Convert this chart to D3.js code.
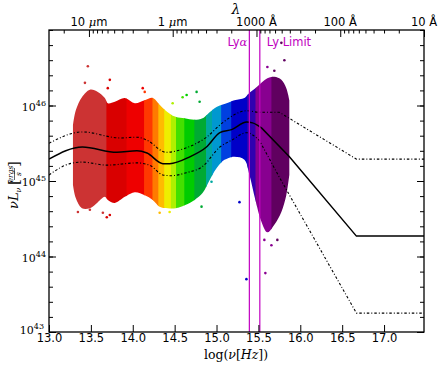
<!DOCTYPE html>
<html>
<head>
<meta charset="utf-8">
<script src="https://cdn.jsdelivr.net/npm/d3@7"></script>
<style>
  body { margin: 0; background: #fff; }
  text { fill: #000; }
</style>
</head>
<body>
<div id="chart"></div>
<script>
// x: log10(nu [Hz]), y: log10(nu L_nu [ergs/s])

// mean SED and the two dash-dot envelopes
var meanNu = [13.0, 13.40, 13.81, 14.05, 14.17, 14.36, 14.44, 14.68, 14.88, 15.04, 15.18, 15.36, 15.43, 15.54];
var meanL  = [45.29, 45.45, 45.38, 45.40, 45.37, 45.23, 45.23, 45.32, 45.45, 45.64, 45.68, 45.78, 45.77, 45.70];
var meanTailNu = [15.54, 15.87, 16.67, 17.48];
var meanTailL  = [45.70, 45.32, 44.27, 44.27];

var upNu = [13.0, 13.40, 13.85, 14.05, 14.17, 14.40, 14.64, 14.88, 15.07, 15.36, 15.51, 15.75];
var upL  = [45.50, 45.65, 45.57, 45.58, 45.54, 45.38, 45.44, 45.58, 45.77, 45.93, 45.91, 45.91];
var upTailNu = [15.75, 16.67, 17.48];
var upTailL  = [45.91, 45.29, 45.29];

var loNu = [13.0, 13.25, 13.40, 13.69, 14.05, 14.20, 14.36, 14.46, 14.64, 14.83, 15.04, 15.18, 15.36, 15.51];
var loL  = [45.08, 45.23, 45.25, 45.21, 45.24, 45.21, 45.08, 45.07, 45.11, 45.19, 45.45, 45.54, 45.64, 45.54];
var loTailNu = [15.51, 15.75, 16.67, 17.48];
var loTailL  = [45.54, 45.05, 43.25, 43.25];

// outline of the dense photometry cloud
var envNu = [13.286, 13.321, 13.393, 13.488, 13.583, 13.667, 13.702, 13.786, 13.905, 14.024, 14.143, 14.238,
             14.321, 14.417, 14.512, 14.619, 14.738, 14.833, 14.917, 15.0, 15.095, 15.214, 15.333, 15.393,
             15.464, 15.536, 15.607, 15.690, 15.774, 15.833, 15.869];
var envLo = [44.95, 44.77, 44.64, 44.64, 44.72, 44.79, 44.75, 44.71, 44.79, 44.85, 44.81, 44.75,
             44.66, 44.64, 44.64, 44.68, 44.75, 44.84, 45.01, 45.17, 45.28, 45.32, 45.28, 45.08,
             44.75, 44.46, 44.32, 44.42, 44.59, 44.81, 45.08];
var envHi = [45.74, 45.94, 46.11, 46.21, 46.18, 46.10, 46.03, 46.05, 46.10, 46.03, 46.07, 46.10,
             46.01, 45.91, 45.85, 45.83, 45.81, 45.83, 45.91, 45.98, 46.02, 46.07, 46.10, 46.17,
             46.23, 46.30, 46.36, 46.38, 46.34, 46.23, 46.07];

// photometric bands (start in log nu) and their colours
var bandStart = [13.27, 13.69, 13.93, 14.14, 14.24, 14.31, 14.38, 14.46, 14.52, 14.62, 14.74, 14.88, 14.95, 15.06, 15.18, 15.37, 15.47, 15.66];
var bandColor = ['#cc3333', '#d90000', '#ee0000', '#ff3800', '#ff7a00', '#ffbb00', '#eeee00', '#b0f000', '#44e000',
                 '#00cc00', '#00aa33', '#00a8a0', '#0098d0', '#0040e0', '#0000c8', '#3000b0', '#880090', '#600060'];

// stray points outside the cloud
var outNu = [13.464, 13.429, 13.726, 13.702, 13.405, 13.345, 13.488, 13.643, 13.726, 13.69, 14.119, 14.143,
             14.321, 14.44, 14.476, 14.595, 14.643, 14.762, 14.798, 14.821, 14.94, 15.274, 15.357, 15.583,
             15.607, 15.81, 15.774, 15.655, 15.726, 15.571, 15.69];
var outL  = [46.52, 46.30, 46.34, 46.23, 44.66, 44.59, 44.62, 44.58, 44.55, 44.52, 46.23, 46.18,
             44.58, 44.59, 46.03, 46.11, 46.14, 46.18, 46.05, 44.66, 44.99, 44.72, 43.70, 43.78,
             46.51, 46.60, 46.83, 44.15, 44.22, 44.22, 46.46];

var xTicks = [13.0, 13.5, 14.0, 14.5, 15.0, 15.5, 16.0, 16.5, 17.0];
var yTicks = [43, 44, 45, 46];

// top axis: wavelength in cm
var waveMajor = [1e-3, 1e-4, 1e-5, 1e-6, 1e-7];
var waveLabel = ['10 μm', '1 μm', '1000 Å', '100 Å', '10 Å'];
var lineLya = 1216e-8, lineLyLimit = 912e-8;

var C = 2.99792458e10;
function lamToNu(l) { return Math.log10(C / l); }

var W = 443, H = 366;
var x = d3.scaleLinear().domain([13.0, lamToNu(1e-7)]).range([49, 424]);
var y = d3.scaleLinear().domain([43, 47]).range([332, 30]);

var svg = d3.select('#chart').append('svg')
    .attr('width', W)
    .attr('height', H)
    .style('font-family', 'DejaVu Sans, sans-serif');
var defs = svg.append('defs');

defs.append('clipPath').attr('id', 'plotclip')
  .append('rect').attr('x', 49).attr('y', 30).attr('width', 375).attr('height', 302);

var plot = svg.append('g').attr('clip-path', 'url(#plotclip)');

// cloud, one colour per band
var env = envNu.map(function (v, i) { return [v, envLo[i], envHi[i]]; });
var area = d3.area()
    .x(function (d) { return x(d[0]); })
    .y0(function (d) { return y(d[1]); })
    .y1(function (d) { return y(d[2]); })
    .curve(d3.curveCatmullRom);

bandStart.forEach(function (s, i) {
  var e = i < bandStart.length - 1 ? bandStart[i + 1] : envNu[envNu.length - 1] + 0.05;
  defs.append('clipPath').attr('id', 'band' + i)
    .append('rect')
    .attr('x', x(s) - 0.4).attr('y', 0)
    .attr('width', x(e) - x(s) + 0.8).attr('height', H);
  plot.append('path')
    .datum(env)
    .attr('d', area)
    .attr('fill', bandColor[i])
    .attr('clip-path', 'url(#band' + i + ')');
});

function bandOf(nu) {
  var k = 0;
  for (var i = 0; i < bandStart.length; i++) if (nu >= bandStart[i]) k = i;
  return bandColor[k];
}

plot.selectAll('circle.out')
  .data(outNu.map(function (v, i) { return [v, outL[i]]; }))
  .enter().append('circle')
  .attr('class', 'out')
  .attr('cx', function (d) { return x(d[0]); })
  .attr('cy', function (d) { return y(d[1]); })
  .attr('r', 1.3)
  .attr('fill', function (d) { return bandOf(d[0]); });

// SED lines
function pts(a, b) { return a.map(function (v, i) { return [v, b[i]]; }); }
var smooth = d3.line().x(function (d) { return x(d[0]); }).y(function (d) { return y(d[1]); }).curve(d3.curveMonotoneX);
var straight = d3.line().x(function (d) { return x(d[0]); }).y(function (d) { return y(d[1]); });

[[upNu, upL, upTailNu, upTailL], [loNu, loL, loTailNu, loTailL]].forEach(function (s) {
  plot.append('path').attr('d', smooth(pts(s[0], s[1])) + straight(pts(s[2], s[3])).replace('M', 'L'))
    .attr('fill', 'none').attr('stroke', '#000').attr('stroke-width', 1.1)
    .attr('stroke-dasharray', '2.5,2,1,2');
});
plot.append('path').attr('d', smooth(pts(meanNu, meanL)) + straight(pts(meanTailNu, meanTailL)).replace('M', 'L'))
  .attr('fill', 'none').attr('stroke', '#000').attr('stroke-width', 1.5);

// Lyman lines
var magenta = '#c000c0';
[lineLya, lineLyLimit].forEach(function (l) {
  svg.append('line')
    .attr('x1', x(lamToNu(l))).attr('x2', x(lamToNu(l)))
    .attr('y1', 30).attr('y2', 332)
    .attr('stroke', magenta).attr('stroke-width', 1.2);
});
svg.append('text').attr('x', x(lamToNu(lineLya)) - 2).attr('y', 46)
  .attr('text-anchor', 'end').style('font-size', '11.5px').style('fill', magenta)
  .html('Ly<tspan font-family="DejaVu Serif" font-style="italic">α</tspan>');
svg.append('text').attr('x', x(lamToNu(lineLyLimit)) + 7).attr('y', 46)
  .style('font-size', '11.5px').style('fill', magenta)
  .text('Ly Limit');

// axes
function styleAxis(g) {
  g.select('.domain').remove();
  g.selectAll('line').attr('stroke', '#000').attr('stroke-width', 1);
  g.selectAll('text').style('font-size', '11.5px').style('font-family', 'DejaVu Sans, sans-serif');
}

var yMinor = d3.range(43, 47.001, 0.2).map(function (v) { return Math.round(v * 10) / 10; });

svg.append('g').attr('transform', 'translate(49,0)')
  .call(d3.axisLeft(y).tickValues(yMinor).tickSize(-4).tickFormat(''))
  .call(styleAxis);
svg.append('g').attr('transform', 'translate(424,0)')
  .call(d3.axisRight(y).tickValues(yMinor).tickSize(-4).tickFormat(''))
  .call(styleAxis);
svg.append('g').attr('transform', 'translate(49,0)')
  .call(d3.axisLeft(y).tickValues(yTicks).tickSize(-7).tickFormat(''))
  .call(styleAxis);
svg.append('g').attr('transform', 'translate(424,0)')
  .call(d3.axisRight(y).tickValues(yTicks).tickSize(-7).tickFormat(''))
  .call(styleAxis);

yTicks.forEach(function (v) {
  svg.append('text')
    .attr('x', v === 43 ? 44 : 46).attr('y', y(v) + (v === 43 ? 2 : 5))
    .attr('text-anchor', 'end')
    .style('font-family', 'DejaVu Serif, serif')
    .style('font-size', '11px')
    .html('10<tspan dy="-5" font-size="8px">' + v + '</tspan>');
});

svg.append('g').attr('transform', 'translate(0,332)')
  .call(d3.axisBottom(x).tickValues(xTicks).tickSize(-7).tickPadding(2).tickFormat(d3.format('.1f')))
  .call(styleAxis);

// wavelength axis on top
var waveMinor = [];
[1e-2, 1e-3, 1e-4, 1e-5, 1e-6, 1e-7].forEach(function (dec) {
  for (var k = 2; k <= 9; k++) {
    var nu = lamToNu(k * dec);
    if (nu >= 13.0 && nu <= x.domain()[1]) waveMinor.push(nu);
  }
});
svg.append('g').attr('transform', 'translate(0,30)')
  .call(d3.axisTop(x).tickValues(waveMinor).tickSize(-3.5).tickFormat(''))
  .call(styleAxis);
svg.append('g').attr('transform', 'translate(0,30)')
  .call(d3.axisTop(x).tickValues(waveMajor.map(lamToNu)).tickSize(-7).tickFormat(''))
  .call(styleAxis);
waveMajor.forEach(function (l, i) {
  svg.append('text')
    .attr('x', x(lamToNu(l))).attr('y', 26)
    .attr('text-anchor', 'middle')
    .style('font-size', '11.5px')
    .html(waveLabel[i].replace('μ', '<tspan font-family="DejaVu Serif" font-style="italic">μ</tspan>'));
});

// frame
svg.append('rect')
  .attr('x', 49).attr('y', 30).attr('width', 375).attr('height', 302)
  .attr('fill', 'none').attr('stroke', '#000').attr('stroke-width', 1.3);

// axis titles
svg.append('text')
  .attr('x', 236).attr('y', 14)
  .attr('text-anchor', 'middle')
  .style('font-family', 'DejaVu Serif, serif').style('font-style', 'italic').style('font-size', '14px')
  .text('λ');

svg.append('text')
  .attr('x', 236).attr('y', 359)
  .attr('text-anchor', 'middle')
  .style('font-family', 'DejaVu Serif, serif').style('font-size', '12.5px')
  .html('log(<tspan font-style="italic">ν</tspan>[<tspan font-style="italic">Hz</tspan>])');

var yl = svg.append('g').attr('transform', 'translate(18,183) rotate(-90)')
    .style('font-family', 'DejaVu Serif, serif');
yl.append('text').attr('x', -26).attr('y', 0)
  .style('font-size', '13px').style('font-style', 'italic')
  .html('νL<tspan dy="3" font-size="8px">ν</tspan>');
yl.append('text').attr('x', -2).attr('y', 1).style('font-size', '15px').text('[');
yl.append('text').attr('x', 9).attr('y', -5).attr('text-anchor', 'middle')
  .style('font-size', '7.5px').style('font-style', 'italic').text('ergs');
yl.append('line').attr('x1', 3).attr('x2', 15).attr('y1', -3.5).attr('y2', -3.5)
  .attr('stroke', '#000').attr('stroke-width', 0.6);
yl.append('text').attr('x', 9).attr('y', 3).attr('text-anchor', 'middle')
  .style('font-size', '7.5px').style('font-style', 'italic').text('s');
yl.append('text').attr('x', 16).attr('y', 1).style('font-size', '15px').text(']');
</script>
</body>
</html>
